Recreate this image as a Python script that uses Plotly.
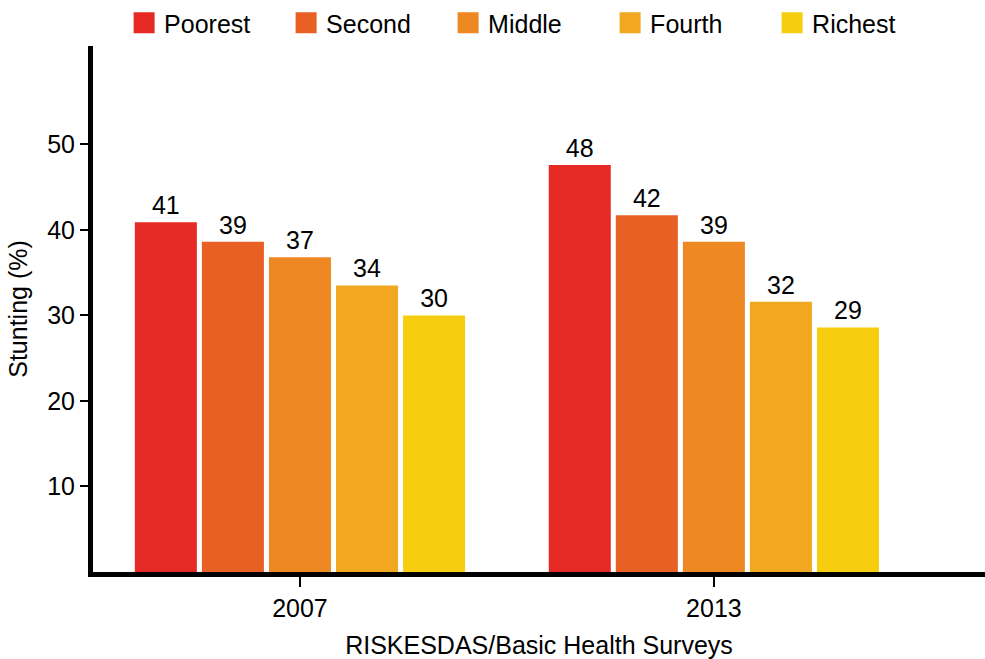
import plotly.graph_objects as go

years = ["2007", "2013"]
quintiles = ["Poorest", "Second", "Middle", "Fourth", "Richest"]
values = {
    "Poorest": [40.9, 47.6],
    "Second": [38.6, 41.7],
    "Middle": [36.8, 38.6],
    "Fourth": [33.5, 31.6],
    "Richest": [30.0, 28.6],
}
colors = ["#E62A25", "#E86024", "#ED8823", "#F1A820", "#F7CD10"]
y_ticks = [10, 20, 30, 40, 50]

FONT = "Liberation Sans, Arial, sans-serif"

fig = go.Figure()
for q, c in zip(quintiles, colors):
    fig.add_trace(go.Bar(
        x=[0, 1], y=values[q], name=q, marker=dict(color=c, line=dict(width=0)),
        text=[f"{v:.0f}" for v in values[q]], textposition="outside",
        textfont=dict(size=25, color="black", family=FONT), cliponaxis=False,
        showlegend=False,
    ))
    fig.add_trace(go.Scatter(
        x=[None], y=[None], mode="markers", name=q,
        marker=dict(symbol="square", size=16, color=c, line=dict(color=c, width=5)),
    ))

fig.update_layout(
    width=985, height=659,
    margin=dict(l=93, r=0, t=43, b=87),
    paper_bgcolor="white", plot_bgcolor="white",
    barmode="group", bargap=0.19, bargroupgap=0.075,
    font=dict(family=FONT, size=25, color="black"),
    legend=dict(orientation="h", x=0.126, xanchor="left", y=1.0, yanchor="top",
                xref="container", yref="container",
                font=dict(size=25), entrywidth=117, traceorder="normal",
                bgcolor="rgba(0,0,0,0)"),
    xaxis=dict(
        range=[-0.5, 1.655], tickvals=[0, 1], ticktext=years,
        showline=True, linecolor="black", linewidth=5,
        ticks="outside", ticklen=10, tickwidth=2, tickcolor="black",
        showgrid=False, zeroline=False,
        tickfont=dict(size=25),
        title=dict(text="RISKESDAS/Basic Health Surveys", font=dict(size=25), standoff=18),
    ),
    yaxis=dict(
        range=[0, 61.5], tickvals=y_ticks,
        showline=True, linecolor="black", linewidth=5,
        ticks="outside", ticklen=8, tickwidth=2, tickcolor="black",
        showgrid=False, zeroline=False,
        tickfont=dict(size=25),
        title=dict(text="Stunting (%)", font=dict(size=25), standoff=14),
    ),
)

fig.write_html("out.html")
